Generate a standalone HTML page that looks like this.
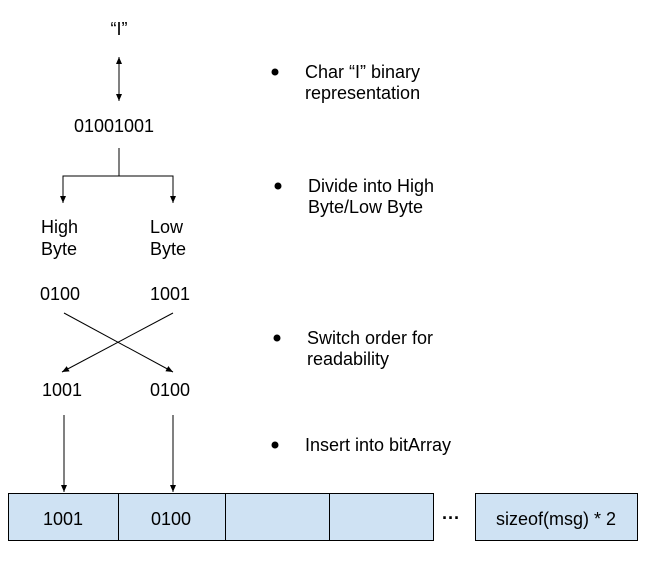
<!DOCTYPE html>
<html><head><meta charset="utf-8"><style>
body{margin:0;background:#fff;}
svg{display:block;}
text{font-family:"Liberation Sans",Arial,sans-serif;font-size:18px;fill:#000;}
</style></head><body>
<svg width="666" height="577" viewBox="0 0 666 577">
<defs>
<marker id="a" markerWidth="8" markerHeight="8" refX="7" refY="4" orient="auto" markerUnits="userSpaceOnUse">
<path d="M0,1 L7,4 L0,7 z" fill="#000"/></marker>
<marker id="b" markerWidth="8" markerHeight="8" refX="1" refY="4" orient="auto" markerUnits="userSpaceOnUse">
<path d="M8,1 L1,4 L8,7 z" fill="#000"/></marker>
</defs>
<g stroke="#000" stroke-width="1" fill="none">
<line x1="119" y1="57" x2="119" y2="101" marker-start="url(#b)" marker-end="url(#a)"/>
<polyline points="119,148 119,176"/>
<polyline points="63,203 63,176 173,176 173,203" marker-end="url(#a)"/>
<line x1="63" y1="176" x2="63" y2="203" marker-end="url(#a)"/>
<line x1="64" y1="313" x2="173" y2="372" marker-end="url(#a)"/>
<line x1="173" y1="313" x2="62" y2="372" marker-end="url(#a)"/>
<line x1="64" y1="415" x2="64" y2="492" marker-end="url(#a)"/>
<line x1="173" y1="415" x2="173" y2="492" marker-end="url(#a)"/>
</g>
<g fill="#cfe2f3" stroke="#000" stroke-width="1">
<rect x="8.5" y="493.5" width="110" height="47"/>
<rect x="118.5" y="493.5" width="107" height="47"/>
<rect x="225.5" y="493.5" width="104" height="47"/>
<rect x="329.5" y="493.5" width="104" height="47"/>
<rect x="475.5" y="493.5" width="162" height="47"/>
</g>
<text x="119" y="35" text-anchor="middle">“I”</text>
<text x="114" y="132" text-anchor="middle">01001001</text>
<text x="41" y="233">High</text><text x="41" y="255">Byte</text>
<text x="150" y="233">Low</text><text x="150" y="255">Byte</text>
<text x="40" y="300">0100</text><text x="150" y="300">1001</text>
<text x="42" y="396">1001</text><text x="150" y="396">0100</text>
<text x="63" y="525" text-anchor="middle">1001</text>
<text x="171" y="525" text-anchor="middle">0100</text>
<text x="451" y="524" text-anchor="middle" font-weight="bold">···</text>
<text x="556" y="525" text-anchor="middle">sizeof(msg) * 2</text>
<g>
<circle cx="275" cy="72" r="3.5"/><text x="305" y="78">Char “I” binary</text><text x="305" y="99">representation</text>
<circle cx="278" cy="186" r="3.5"/><text x="308" y="192">Divide into High</text><text x="308" y="213">Byte/Low Byte</text>
<circle cx="277" cy="338" r="3.5"/><text x="307" y="344">Switch order for</text><text x="307" y="365">readability</text>
<circle cx="275" cy="445" r="3.5"/><text x="305" y="451">Insert into bitArray</text>
</g>
</svg>
</body></html>
